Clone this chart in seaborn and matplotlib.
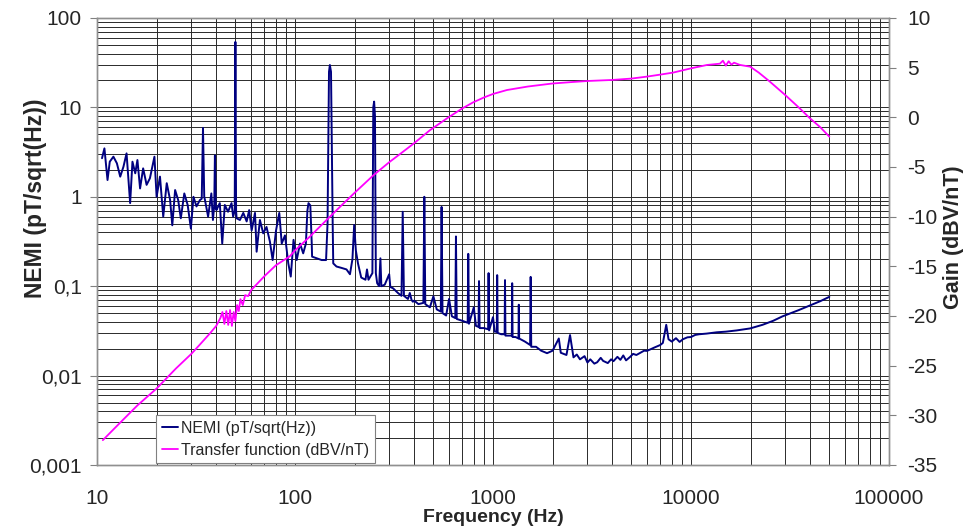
import matplotlib
matplotlib.use("Agg")
import matplotlib.pyplot as plt
import seaborn as sns
import pandas as pd
from matplotlib.ticker import LogLocator, NullFormatter

# ---------------- data ----------------
nemi_freq = [10.6, 10.9, 11.3, 11.6, 12.1, 12.6, 13.1, 13.6, 14.1, 14.7, 15.1, 15.6, 16.0, 16.5,
             17.1, 17.8, 18.5, 19.5, 20.0, 20.8, 21.6, 22.5, 23.4, 24.0, 24.8, 25.7, 26.5, 27.6,
             28.7, 29.8, 30.7, 31.8, 33.1, 33.8, 34.3, 34.8, 35.1, 36.4, 37.8, 38.5, 39.1, 39.4,
             39.8, 40.1, 41.7, 42.9, 44.2, 45.9, 47.8, 48.7, 49.6, 50.0, 50.4, 50.7, 52.7, 54.8,
             57.0, 58.7, 60.4, 62.8, 64.0, 66.5, 69.1, 71.8, 74.7, 77.1, 80.2, 83.3, 85.7, 89.0,
             92.5, 95.2, 98.3, 102, 106, 110, 113.5, 115.5, 117, 119.5, 121.5, 122, 128.7, 136.4,
             143.5, 146, 148.5, 150, 152, 155, 156, 162, 172, 182, 189.5, 195, 199, 203, 208,
             216, 227, 231, 235, 246, 248.5, 251, 253.5, 256, 260, 266, 270, 273, 284, 299, 303,
             313, 331, 345, 350, 355, 372, 380, 388, 394, 400, 420, 445, 450, 455, 480, 500, 520,
             545, 550, 556, 580, 600, 620, 645, 650, 656, 700, 745, 750, 756, 800, 820, 845, 850,
             856, 900, 945, 950, 956, 1000, 1020, 1045, 1050, 1056, 1100, 1145, 1150, 1156, 1200,
             1245, 1250, 1256, 1300, 1345, 1350, 1356, 1450, 1540, 1550, 1560, 1650, 1750, 1875,
             2000, 2150, 2200, 2350, 2450, 2550, 2650, 2750, 2900, 3000, 3100, 3250, 3360, 3500,
             3600, 3800, 3950, 4060, 4250, 4400, 4550, 4700, 4930, 5100, 5300, 5600, 5800, 6000,
             6500, 7000, 7210, 7500, 7700, 8000, 8400, 8760, 9100, 9600, 10000, 10500, 11000, 12000,
             13500, 15000, 17000, 19900, 23000, 26000, 29000, 35000, 40000, 45000, 50000]
nemi_val = [2.70, 3.48, 1.54, 2.47, 2.81, 2.37, 1.68, 2.17, 3.06, 0.85, 2.47, 1.83, 2.58, 1.24,
            2.08, 1.36, 1.61, 2.81, 1.00, 1.68, 0.60, 1.42, 0.92, 0.48, 1.19, 0.92, 0.575, 1.09,
            0.81, 0.44, 1.00, 0.78, 0.92, 0.95, 5.9, 1.0, 0.92, 0.60, 1.09, 0.55, 0.8, 2.9,
            0.75, 0.71, 0.85, 0.30, 0.81, 0.68, 0.85, 0.60, 0.7, 54, 0.7, 0.575, 0.55, 0.66,
            0.53, 0.71, 0.42, 0.66, 0.243, 0.55, 0.39, 0.46, 0.315, 0.196, 0.42, 0.66, 0.30, 0.37,
            0.18, 0.128, 0.33, 0.196, 0.30, 0.233, 0.30, 0.7, 0.85, 0.8, 0.3, 0.214, 0.205, 0.196,
            0.196, 0.5, 25, 29.8, 25, 0.5, 0.18, 0.166, 0.16, 0.154, 0.136, 0.2, 0.484, 0.25, 0.18,
            0.125, 0.118, 0.154, 0.118, 0.14, 10, 11.6, 8, 0.14, 0.108, 0.1, 0.205, 0.1, 0.104, 0.136, 0.098,
            0.0946, 0.084, 0.078, 0.68, 0.078, 0.072, 0.084, 0.07, 0.067, 0.069, 0.063, 0.065, 1.0, 0.063, 0.058, 0.077, 0.055,
            0.052, 0.77, 0.05, 0.047, 0.072, 0.046, 0.044, 0.36, 0.043, 0.041, 0.039, 0.23, 0.038, 0.058, 0.036, 0.035, 0.114,
            0.034, 0.034, 0.033, 0.14, 0.032, 0.045, 0.031, 0.031, 0.133, 0.030, 0.029, 0.029, 0.117, 0.028, 0.028,
            0.028, 0.108, 0.027, 0.027, 0.026, 0.062, 0.026, 0.024, 0.022, 0.127, 0.021, 0.021, 0.019, 0.0178,
            0.019, 0.026, 0.018, 0.017, 0.0284, 0.016, 0.0172, 0.0152, 0.0165, 0.0140, 0.0152, 0.0136, 0.0141, 0.0158,
            0.0146, 0.0138, 0.0152, 0.0145, 0.0162, 0.0150, 0.0168, 0.0148, 0.0162, 0.0175, 0.0170, 0.0182, 0.0190, 0.0189,
            0.0205, 0.0220, 0.0232, 0.0370, 0.0255, 0.0240, 0.0262, 0.0238, 0.0255, 0.0268, 0.0270, 0.0285, 0.0290, 0.0295,
            0.0305, 0.0310, 0.0320, 0.0337, 0.0370, 0.0410, 0.0460, 0.0540, 0.0610, 0.0680, 0.0760]

tf_freq = [10.7, 13, 16, 20, 25, 30, 33, 37, 40, 42, 43, 44, 45, 46, 47, 48, 49, 50, 51, 52,
           53, 54.5, 56, 58, 60, 70, 80, 94, 100, 119, 140, 169, 200, 250, 300, 339, 400, 480,
           586, 700, 793, 900, 1000, 1177, 1500, 1987, 2500, 3020, 3990, 5000, 6000, 7000, 8110,
           10000, 12050, 14000, 14500, 15000, 15500, 16000, 16500, 17700, 19900, 22000, 25000,
           29900, 35000, 39900, 45000, 50000]
tf_gain = [-32.5, -30.8, -29.0, -27.3, -25.3, -23.8, -22.9, -21.8, -21.0, -20.2, -19.6, -20.8,
           -19.5, -20.9, -19.4, -21.0, -19.6, -20.5, -18.9, -19.5, -18.3, -18.9, -17.9, -18.0,
           -17.4, -16.0, -14.9, -14.0, -13.4, -12.0, -10.6, -9.0, -7.6, -5.8, -4.5, -3.7, -2.6,
           -1.3, -0.1, 0.9, 1.5, 2.0, 2.35, 2.75, 3.1, 3.4, 3.55, 3.66, 3.76, 3.9, 4.1, 4.3, 4.5,
           4.93, 5.27, 5.4, 5.7, 5.2, 5.65, 5.3, 5.5, 5.27, 5.1, 4.5, 3.6, 2.25, 1.0, -0.1, -1.0,
           -1.95]

x_ticks = [10, 100, 1000, 10000, 100000]
x_tick_labels = ["10", "100", "1000", "10000", "100000"]
nemi_ticks = [0.001, 0.01, 0.1, 1, 10, 100]
nemi_tick_labels = ["0,001", "0,01", "0,1", "1", "10", "100"]
gain_ticks = [-35, -30, -25, -20, -15, -10, -5, 0, 5, 10]
gain_tick_labels = ["-35", "-30", "-25", "-20", "-15", "-10", "-5", "0", "5", "10"]

nemi_label = "NEMI (pT/sqrt(Hz))"
tf_label = "Transfer function (dBV/nT)"

# ---------------- plotting ----------------
sns.set_style("white")
plt.rcParams["font.family"] = ["Liberation Sans", "DejaVu Sans"]

df_nemi = pd.DataFrame({"f": nemi_freq, "v": nemi_val})
df_tf = pd.DataFrame({"f": tf_freq, "g": tf_gain})

fig = plt.figure(figsize=(9.74, 5.29), dpi=100)
ax = fig.add_axes([0.0996, 0.121, 0.8131, 0.845])
ax.set_xscale("log")
ax.set_yscale("log")

sns.lineplot(data=df_nemi, x="f", y="v", ax=ax, color="#000080", lw=1.4,
             estimator=None, sort=False, label=nemi_label)
ax.set_xlim(10, 100000)
ax.set_ylim(0.001, 100)

ax2 = ax.twinx()
sns.lineplot(data=df_tf, x="f", y="g", ax=ax2, color="#FF00FF", lw=1.3,
             estimator=None, sort=False, label=tf_label)
ax2.set_ylim(-35, 10)
ax2.set_xlim(10, 100000)

# grid
ax.xaxis.set_minor_locator(LogLocator(base=10, subs=range(2, 10), numticks=20))
ax.yaxis.set_minor_locator(LogLocator(base=10, subs=range(2, 10), numticks=20))
ax.xaxis.set_minor_formatter(NullFormatter())
ax.yaxis.set_minor_formatter(NullFormatter())
ax.grid(which="both", color="#2a2a2a", lw=0.7)
ax.set_axisbelow(True)

ax.set_xticks(x_ticks, x_tick_labels)
ax.set_yticks(nemi_ticks, nemi_tick_labels)
ax2.set_yticks(gain_ticks, gain_tick_labels)

ax.tick_params(which="major", axis="both", length=5, color="#808080", labelsize=15)
ax.tick_params(which="major", axis="x", pad=12)
ax.tick_params(which="major", axis="y", pad=6)
ax.tick_params(which="minor", length=0)
ax2.tick_params(which="major", axis="y", length=5, color="#808080", labelsize=15, pad=8)

for a in (ax, ax2):
    for s in a.spines.values():
        s.set_color("#909090")
        s.set_linewidth(1.0)

ax.set_xlabel("Frequency (Hz)", fontsize=14, fontweight="bold", labelpad=1)
ax.set_ylabel(nemi_label, fontsize=16.5, fontweight="bold")
ax.yaxis.set_label_coords(-0.063, 0.597)
ax2.set_ylabel("Gain (dBV/nT)", fontsize=15.5, fontweight="bold")
ax2.yaxis.set_label_coords(1.068, 0.51)

h1, l1 = ax.get_legend_handles_labels()
h2, l2 = ax2.get_legend_handles_labels()
if ax.get_legend() is not None:
    ax.get_legend().remove()
leg = ax2.legend(h1 + h2, l1 + l2, loc="lower left", bbox_to_anchor=(0.073, 0.0),
                 fontsize=11.5, frameon=True, fancybox=False, framealpha=1,
                 edgecolor="#808080", handlelength=1.0, handletextpad=0.2,
                 borderpad=0.35, labelspacing=0.45, borderaxespad=0.1)
leg.get_frame().set_linewidth(0.8)

fig.savefig("out.png", dpi=100)
